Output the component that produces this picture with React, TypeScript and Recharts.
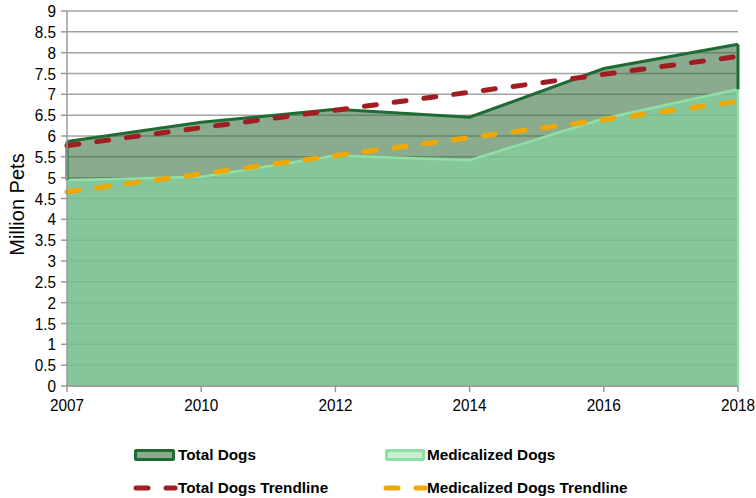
import React from 'react';
import {
  ComposedChart, Area, Line, XAxis, YAxis, CartesianGrid, ReferenceLine,
} from 'recharts';

const years = ['2007', '2010', '2012', '2014', '2016', '2018'];
const totalDogs = [5.87, 6.33, 6.64, 6.45, 7.62, 8.2];
const medicalizedDogs = [4.94, 5.02, 5.53, 5.42, 6.42, 7.12];
const totalTrend = [5.77, 6.2, 6.62, 7.05, 7.48, 7.91];
const medicalizedTrend = [4.66, 5.09, 5.53, 5.96, 6.39, 6.83];
const yTicks = [0, 0.5, 1, 1.5, 2, 2.5, 3, 3.5, 4, 4.5, 5, 5.5, 6, 6.5, 7, 7.5, 8, 8.5, 9];

const data = years.map((y, i) => ({
  year: y,
  total: totalDogs[i],
  med: medicalizedDogs[i],
  totalTrend: totalTrend[i],
  medTrend: medicalizedTrend[i],
}));

const FONT = '"Liberation Sans", Arial, sans-serif';
const DARK = '#1f6b34';
const LIGHT = '#8fe0a6';
const RED = '#a11d22';
const ORANGE = '#f0a800';
const TICK_SCALE = 0.9;

const last = years.length - 1;

const XTick = (props: any) => {
  const { x, y, payload } = props;
  return (
    <g transform={`translate(${x},${y})`}>
      <text transform={`scale(${TICK_SCALE},1)`} x={0} y={0} dy={17} textAnchor="middle"
        fontFamily={FONT} fontSize={17} fill="#000">{payload.value}</text>
    </g>
  );
};

const YTick = (props: any) => {
  const { x, y, payload } = props;
  return (
    <g transform={`translate(${x},${y})`}>
      <text transform={`scale(${TICK_SCALE},1)`} x={0} y={0} dy={6} textAnchor="end"
        fontFamily={FONT} fontSize={17} fill="#000">{payload.value}</text>
    </g>
  );
};

const legendText: React.CSSProperties = {
  fontFamily: FONT, fontSize: 15.3, fontWeight: 'bold', color: '#000', position: 'absolute', lineHeight: '18px',
  whiteSpace: 'nowrap',
};

export default function App() {
  return (
    <div style={{ position: 'absolute', left: 0, top: 0, width: 756, height: 498, background: '#fff' }}>
      <ComposedChart width={756} height={498} data={data}
        margin={{ top: 11, right: 18, bottom: 82, left: 0 }}>
        <CartesianGrid vertical={false} stroke="#a3a3a3" strokeWidth={1.5} />
        <XAxis dataKey="year" scale="point" padding={{ left: 0, right: 0 }}
          stroke="#9a9a9a" strokeWidth={1.5} tickSize={6} tickMargin={2} tickLine={{ stroke: '#9a9a9a' }}
          tick={<XTick />} height={30} interval={0} />
        <YAxis type="number" domain={[0, 9]} ticks={yTicks} interval={0} width={67}
          stroke="#9a9a9a" strokeWidth={1.5} tickSize={6} tickMargin={5}
          tick={<YTick />}
          label={{
            content: (p: any) => {
              const vb = p.viewBox || { x: 0, y: 11, width: 67, height: 375 };
              const cx = vb.x + 17;
              const cy = vb.y + vb.height / 2 + 6;
              return (
                <text x={cx} y={cy} transform={`rotate(-90 ${cx} ${cy})`} textAnchor="middle"
                  dominantBaseline="central" fontFamily={FONT} fontSize={20} fill="#000">Million Pets</text>
              );
            },
          }} />
        <Area type="linear" dataKey="total" name="Total Dogs" stroke={DARK} strokeWidth={3}
          fill="#3e7344" fillOpacity={0.6} isAnimationActive={false} dot={false} activeDot={false} />
        <Area type="linear" dataKey="med" name="Medicalized Dogs" stroke={LIGHT} strokeWidth={2.5}
          fill="#85d29f" fillOpacity={0.7} isAnimationActive={false} dot={false} activeDot={false} />
        <ReferenceLine segment={[{ x: years[0], y: totalDogs[0] }, { x: years[0], y: medicalizedDogs[0] }]}
          stroke={DARK} strokeWidth={3} />
        <ReferenceLine segment={[{ x: years[last], y: medicalizedDogs[last] }, { x: years[last], y: 0 }]}
          stroke={LIGHT} strokeWidth={2.5} />
        <ReferenceLine segment={[{ x: years[last], y: totalDogs[last] }, { x: years[last], y: medicalizedDogs[last] }]}
          stroke={DARK} strokeWidth={3} />
        <Line type="linear" dataKey="totalTrend" name="Total Dogs Trendline" stroke={RED} strokeWidth={5}
          strokeDasharray="12 18" strokeLinecap="round" dot={false} activeDot={false} isAnimationActive={false} />
        <Line type="linear" dataKey="medTrend" name="Medicalized Dogs Trendline" stroke={ORANGE} strokeWidth={5}
          strokeDasharray="12 18" strokeLinecap="round" dot={false} activeDot={false} isAnimationActive={false} />
      </ComposedChart>
      {/* Legend */}
      <div style={{ position: 'absolute', left: 134, top: 449, width: 35, height: 6, border: `3px solid ${DARK}`, background: '#8bab8f', borderRadius: 2 }} />
      <div style={{ ...legendText, left: 178, top: 446 }}>Total Dogs</div>
      <div style={{ position: 'absolute', left: 385, top: 449, width: 34, height: 6, border: `3px solid ${LIGHT}`, background: '#c6efd2', borderRadius: 2 }} />
      <div style={{ ...legendText, left: 427, top: 446 }}>Medicalized Dogs</div>
      <svg style={{ position: 'absolute', left: 126, top: 480 }} width={60} height={16}>
        <line x1={10} y1={8} x2={22} y2={8} stroke={RED} strokeWidth={5} strokeLinecap="round" />
        <line x1={40} y1={8} x2={49} y2={8} stroke={RED} strokeWidth={5} strokeLinecap="round" />
      </svg>
      <div style={{ ...legendText, left: 178, top: 479 }}>Total Dogs Trendline</div>
      <svg style={{ position: 'absolute', left: 377, top: 480 }} width={60} height={16}>
        <line x1={9} y1={8} x2={21} y2={8} stroke={ORANGE} strokeWidth={5} strokeLinecap="round" />
        <line x1={39} y1={8} x2={48} y2={8} stroke={ORANGE} strokeWidth={5} strokeLinecap="round" />
      </svg>
      <div style={{ ...legendText, left: 427, top: 479 }}>Medicalized Dogs Trendline</div>
    </div>
  );
}
